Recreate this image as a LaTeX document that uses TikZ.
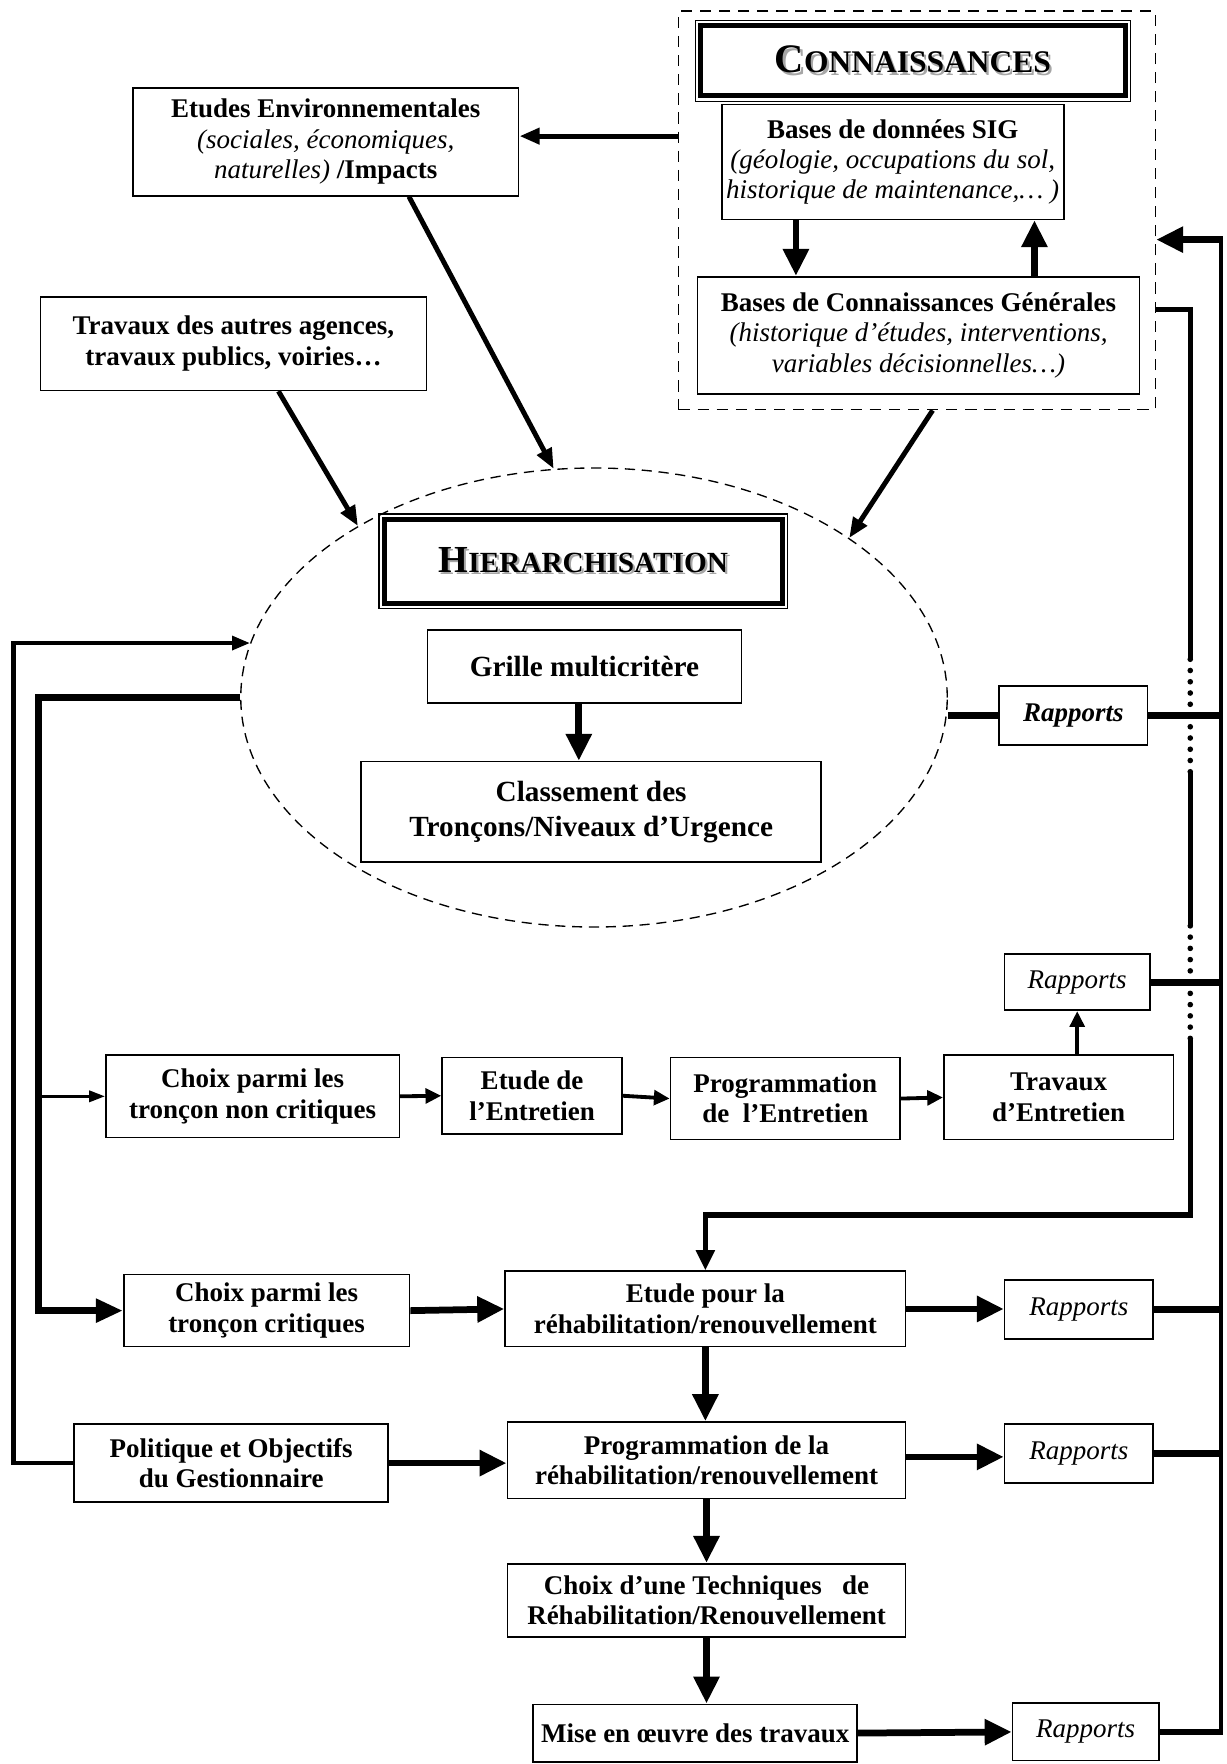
\documentclass[tikz,border=0pt]{standalone}
\usepackage{fontspec}
\setmainfont{Liberation Serif}
\usepackage{tikz}
\usetikzlibrary{arrows.meta,shapes.geometric,calc}

\newcommand{\boxfont}{\fontsize{12}{13.5}\selectfont\bfseries}
\newcommand{\bigfont}{\fontsize{13}{15.5}\selectfont\bfseries}
\newcommand{\shadowed}[1]{\makebox[0pt][l]{\kern1pt\raisebox{-1pt}{\textcolor{black!35}{#1}}}#1}

\begin{document}
\begin{tikzpicture}[x=0.5pt, y=-0.5pt,
    box/.style={draw, line width=0.75pt, align=center, font=\boxfont, inner sep=2pt},
    bigbox/.style={box, font=\bigfont},
    titlebox/.style={draw, line width=0.6pt, align=center, font=\bfseries},
    rapbox/.style={box, font=\fontsize{12}{13.5}\selectfont\itshape},
    thickline/.style={line width=3pt},
    busline/.style={line width=2.4pt},
    dotline/.style={line width=2.5pt, line cap=round, dash pattern=on 0pt off 5pt},
    thickarrow/.style={thickline, -{Triangle[length=12pt,width=11pt]}},
    medarrow/.style={line width=2.2pt, -{Triangle[length=9pt,width=7pt]}},
    rowarrow/.style={line width=1.7pt, -{Triangle[length=7pt,width=6.5pt]}},
    thinarrow/.style={line width=1.2pt, -{Triangle[length=7pt,width=5pt]}}]
    \useasboundingbox (0,0) rectangle (1090,1568);

    % Connaissances
    \node[draw, line width=0.75pt, dash pattern=on 5pt off 3.5pt, minimum width=212pt, minimum height=177pt] (conn) at (815,187) {};
    \node[titlebox, minimum width=193.5pt, minimum height=36pt] (conntitle) at (811.5,54)
        {\shadowed{{\fontsize{18}{18}\selectfont C}{\fontsize{14}{14}\selectfont ONNAISSANCES}}};
    \node[box, minimum width=151.5pt, minimum height=51pt] (sig) at (793.5,144)
        {Bases de données SIG\\ \textit{\mdseries(géologie, occupations du sol,}\\ \textit{\mdseries historique de maintenance,… )}};
    \node[box, minimum width=196.5pt, minimum height=52pt] (gen) at (816.5,298)
        {Bases de Connaissances Générales\\ \textit{\mdseries(historique d’études, interventions,}\\ \textit{\mdseries variables décisionnelles…)}};
    \draw[thickarrow] ([xshift=-43pt]sig.south) -- ([xshift=-43pt]sig.south |- gen.north);
    \draw[thickarrow] ([xshift=63pt]sig.south |- gen.north) -- ([xshift=63pt]sig.south);

    % Entrees
    \node[box, minimum width=171.5pt, minimum height=48pt] (etudes) at (289.5,126)
        {Etudes Environnementales\\ \textit{\mdseries(sociales, économiques,}\\ \textit{\mdseries naturelles)} /Impacts};
    \node[box, minimum width=171.5pt, minimum height=41.5pt] (autres) at (207.5,305.5)
        {Travaux des autres agences,\\ travaux publics, voiries…};
    \draw[medarrow] ([yshift=2.5pt]conn.west |- etudes.east) -- ([yshift=2.5pt]etudes.east);

    % Hierarchisation
    \node[draw, ellipse, line width=0.6pt, dash pattern=on 4.5pt off 3pt, minimum width=314pt, minimum height=204pt] (hier) at (528,620) {};
    \node[titlebox, minimum width=181.5pt, minimum height=42pt] (hiertitle) at (518.5,499)
        {\shadowed{{\fontsize{17}{17}\selectfont H}{\fontsize{13}{13}\selectfont IERARCHISATION}}};
    \foreach \t in {conntitle,hiertitle}
        \draw[line width=2.2pt] ([shift={(2.7pt,-2.7pt)}]\t.north west) rectangle ([shift={(-2.7pt,2.7pt)}]\t.south east);
    \node[bigbox, minimum width=139.5pt, minimum height=32.5pt] (grille) at (519.5,592.5) {Grille multicritère};
    \node[bigbox, minimum width=204.5pt, minimum height=44.5pt] (classement) at (525.5,721.5)
        {Classement des\\ Tronçons/Niveaux d’Urgence};
    \draw[thickarrow] ([xshift=-2.5pt]grille.south) -- ([xshift=-2.5pt]grille.south |- classement.north);
    \draw[medarrow] ([xshift=37pt]etudes.south) -- (hier.100);
    \draw[medarrow] ([xshift=20pt]autres.south) -- (hier.144);
    \draw[medarrow] ([xshift=7pt]conn.south) -- (hier.32);

    % Rapports
    \node[rapbox, font=\fontsize{12}{13.5}\selectfont\bfseries\itshape, minimum width=66pt, minimum height=26pt] (rap1) at (954,636) {Rapports};
    \node[rapbox, minimum width=64.5pt, minimum height=25pt] (rap2) at (957.5,873) {Rapports};
    \node[rapbox, minimum width=66pt, minimum height=26pt] (rap3) at (959,1164) {Rapports};
    \node[rapbox, minimum width=66pt, minimum height=26pt] (rap4) at (959,1292) {Rapports};
    \node[rapbox, minimum width=65pt, minimum height=25.5pt] (rap5) at (965,1539.5) {Rapports};
    \draw[thickline] (rap1.west) -- (rap1.west -| hier.east);

    % Entretien
    \node[box, minimum width=130.5pt, minimum height=36.5pt] (choixnc) at (224.5,974.5) {Choix parmi les\\ tronçon non critiques};
    \node[box, minimum width=80pt, minimum height=34pt] (etudeent) at (473,974) {Etude de\\ l’Entretien};
    \node[box, minimum width=102pt, minimum height=36.5pt] (progent) at (698,976.5) {Programmation\\ de\ \ l’Entretien};
    \node[box, minimum width=102pt, minimum height=37.5pt] (travent) at (941,975.5) {Travaux\\ d’Entretien};
    \foreach \a/\b in {choixnc/etudeent, etudeent/progent, progent/travent}
        \draw[rowarrow] (\a.east) -- (\b.west);
    \draw[rowarrow] (travent.north -| rap2.south) -- (rap2.south);

    % Rehabilitation
    \node[box, minimum width=127pt, minimum height=32pt] (choixc) at (237,1165) {Choix parmi les\\ tronçon critiques};
    \node[box, minimum width=178pt, minimum height=33.5pt] (etuderehab) at (627,1163.5) {Etude pour la\\ réhabilitation/renouvellement};
    \node[box, minimum width=139.5pt, minimum height=34.5pt] (politique) at (205.5,1300.5) {Politique et Objectifs\\ du Gestionnaire};
    \node[box, minimum width=177pt, minimum height=34pt] (progrehab) at (628,1298) {Programmation de la\\ réhabilitation/renouvellement};
    \node[box, minimum width=177pt, minimum height=32.5pt] (technique) at (628,1422.5) {Choix d’une Techniques\ \ \ de\\ Réhabilitation/Renouvellement};
    \node[box, minimum width=144pt, minimum height=25.5pt] (mise) at (618,1540.5) {Mise en œuvre des travaux};
    \draw[thickarrow] (choixc.east) -- (etuderehab.west);
    \draw[thickarrow] (etuderehab.east) -- (etuderehab.east -| rap3.west);
    \draw[thickarrow] (etuderehab.south) -- (etuderehab.south |- progrehab.north);
    \draw[thickarrow] (politique.east) -- (politique.east -| progrehab.west);
    \draw[thickarrow] ([yshift=1.5pt]progrehab.east) -- ([yshift=1.5pt]progrehab.east -| rap4.west);
    \draw[thickarrow] (progrehab.south) -- (technique.north);
    \draw[thickarrow] (technique.south) -- (technique.south |- mise.north);
    \draw[thickarrow] (mise.east) -- (rap5.west);

    % Retours gauche
    \coordinate (li) at (34,620);
    \coordinate (lo) at (12,1300);
    \draw[thickline, -{Triangle[length=12pt,width=10pt]}] (hier.west) -| (li |- choixc.west) -- (choixc.west);
    \draw[thinarrow] (li |- choixnc.west) -- (choixnc.west);
    \draw[line width=1.9pt, -{Triangle[length=8pt,width=6pt]}] (politique.west) -- (politique.west -| lo) |- (hier.171);

    % Retours droite
    \coordinate (rtop) at (1085,213);
    \coordinate (ltop) at (1058,275);
    \coordinate (lbot) at (1058,1080);
    \draw[line width=1.9pt] ([yshift=1.5pt]rtop) -- ([yshift=-1.5pt]rtop |- rap5.east);
    \draw[thickarrow] (rtop) -- (rtop -| conn.east);
    \foreach \r in {rap1,rap2,rap3,rap4,rap5}
        \draw[thickline] (\r.east) -- (\r.east -| rtop);
    \draw[busline] (ltop -| conn.east) -- (ltop) -- ([yshift=25pt]ltop |- rap1.west);
    \draw[busline] ([yshift=-25pt]ltop |- rap1.west) -- ([yshift=25pt]ltop |- rap2.west);
    \foreach \r in {rap1,rap2}
        \draw[dotline] ([yshift=25pt]ltop |- \r.west) -- ([yshift=-25pt]ltop |- \r.west);
    \draw[busline, -{Triangle[length=9pt,width=8pt]}] ([yshift=-25pt]ltop |- rap2.west) -- (lbot) -| (etuderehab.north);
\end{tikzpicture}
\end{document}
